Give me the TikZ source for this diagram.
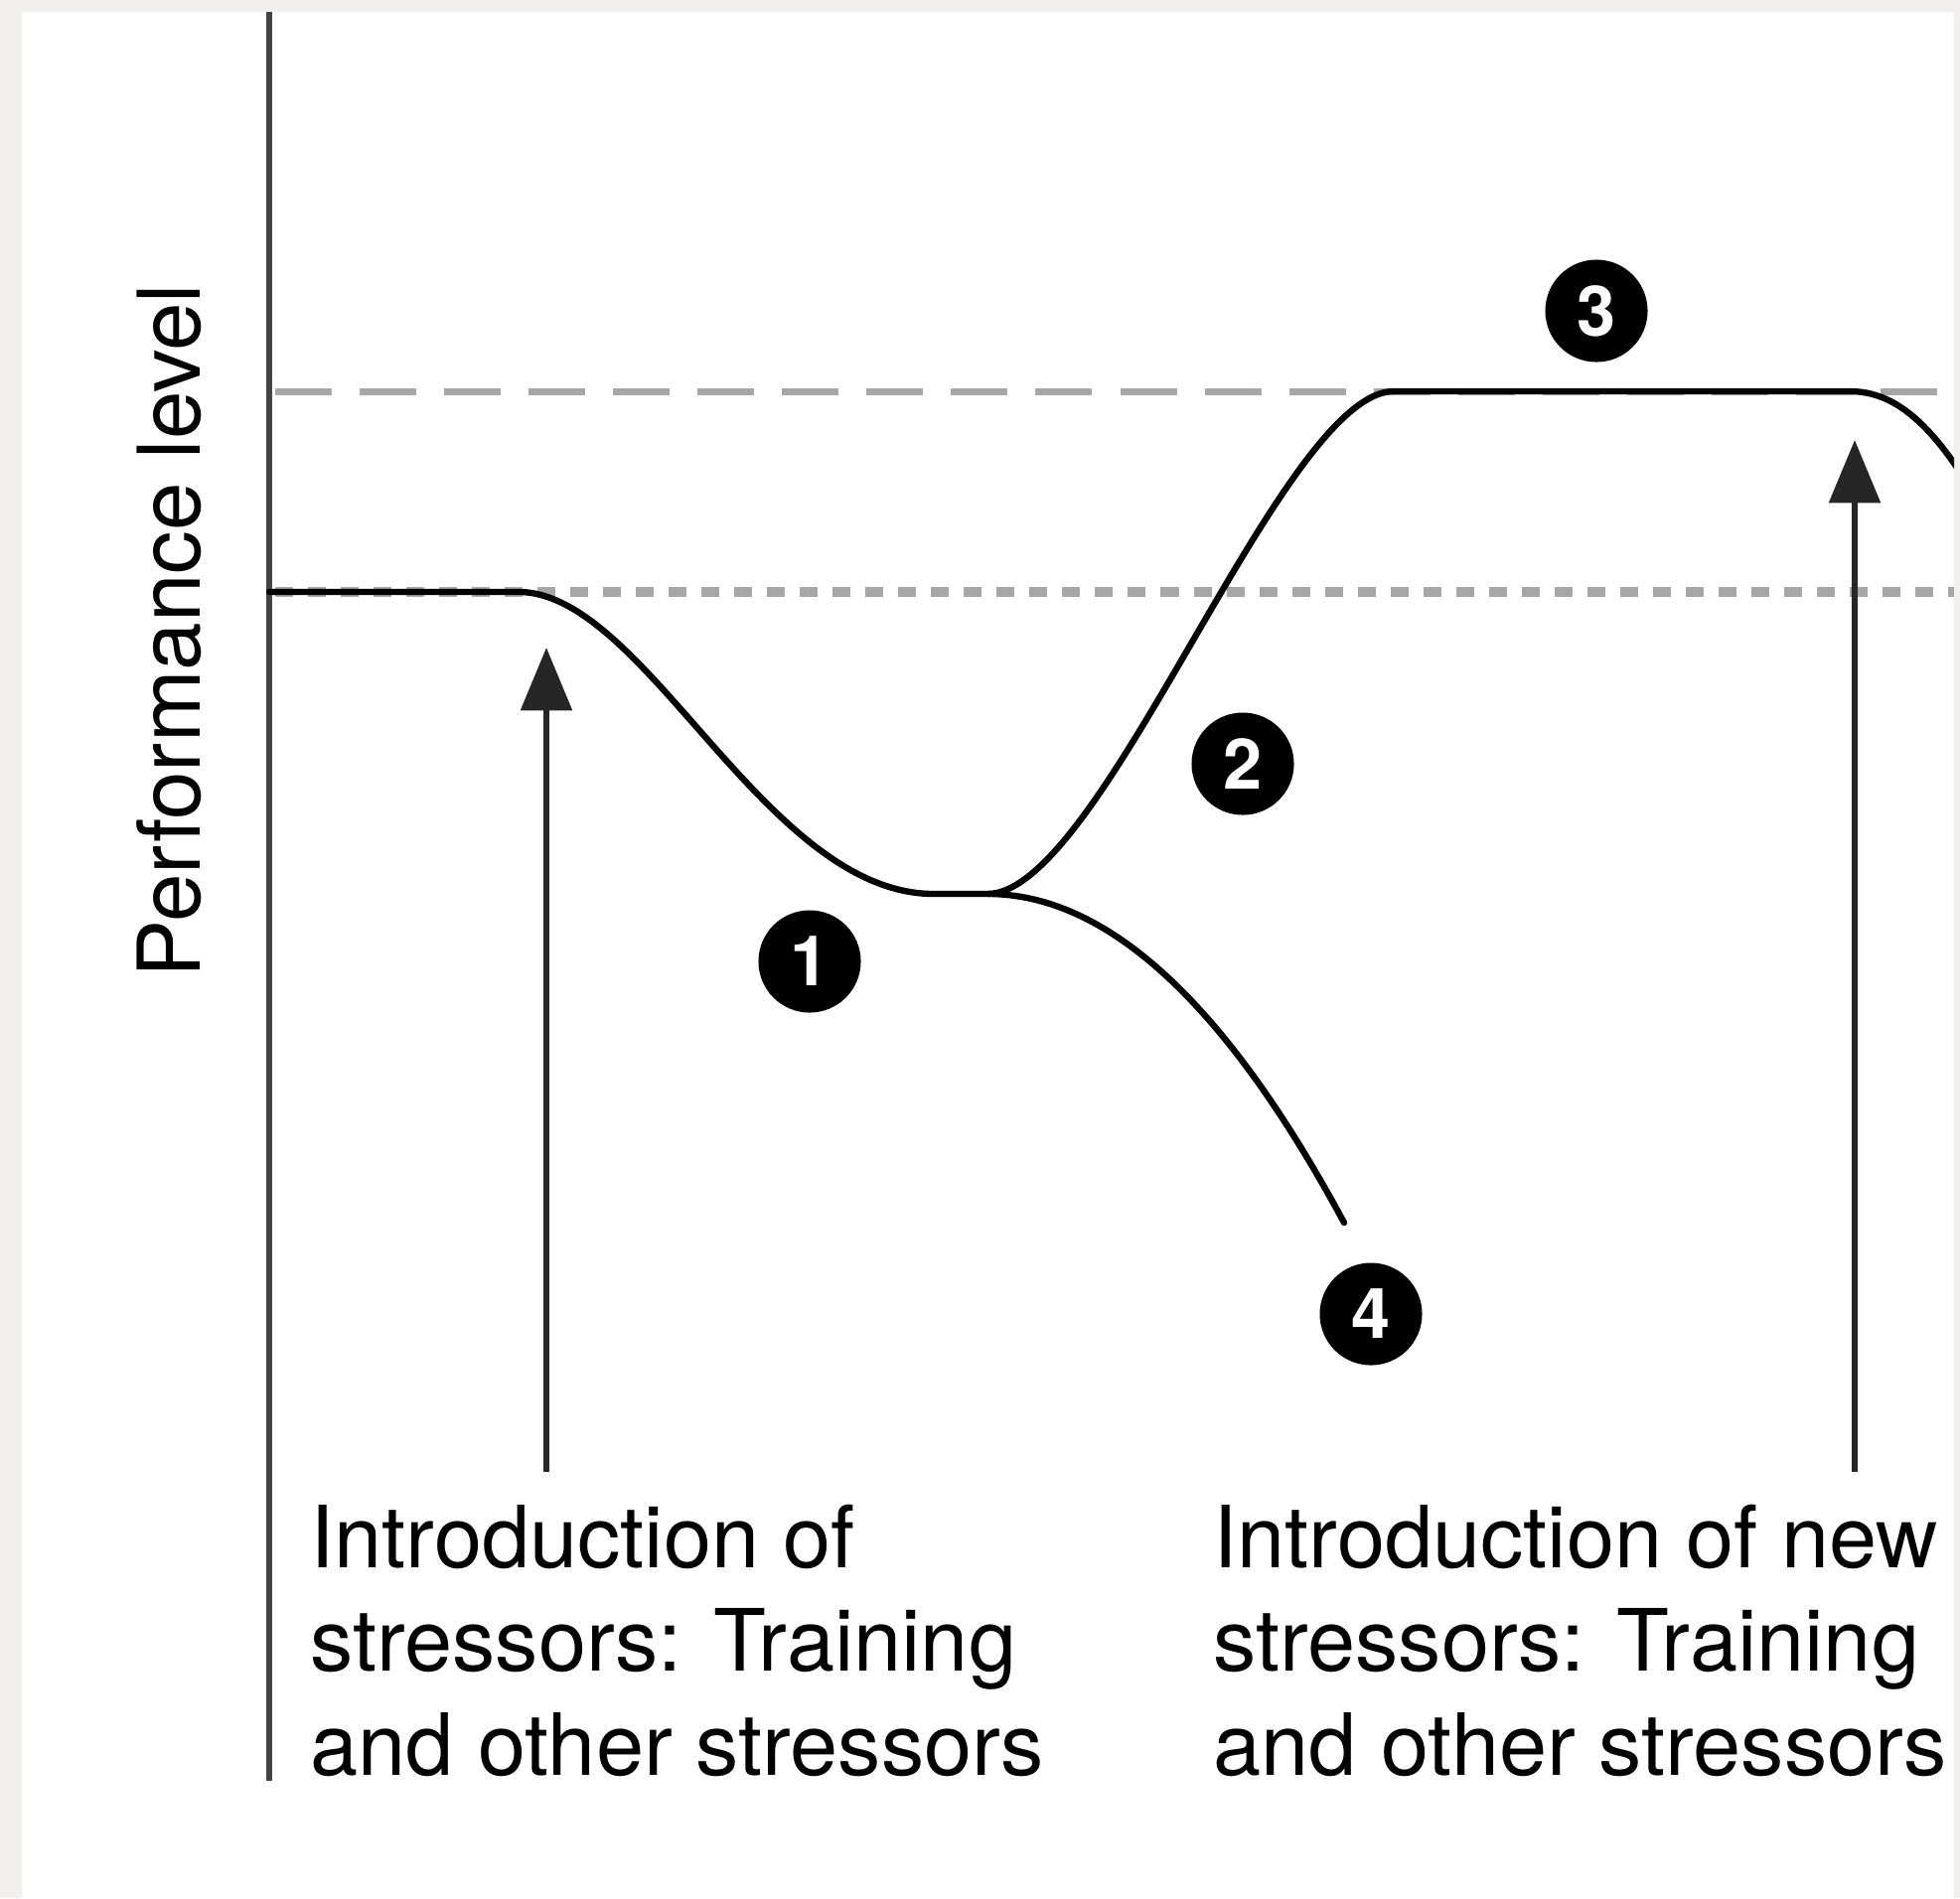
\documentclass[tikz,border=0pt]{standalone}
\usepackage{fontspec}
\setmainfont{TeX Gyre Heros}
\usetikzlibrary{arrows.meta}
\definecolor{framegray}{HTML}{F1F0EC}
\definecolor{axisgray}{HTML}{444444}
\definecolor{refgray}{HTML}{A6A6A6}

\begin{document}
\begin{tikzpicture}[x=0.01cm,y=-0.01cm,
    numdot/.style={circle,fill=black,text=white,minimum size=1.03cm,inner sep=0pt,font=\fontsize{20}{20}\selectfont\bfseries},
    stresslabel/.style={anchor=base west,align=left,inner sep=0pt,font=\fontsize{24.6}{29.6}\selectfont},
    curveline/.style={line width=1.8pt,line cap=round},
    stressarrow/.style={line width=1.6pt,black!85,-{Triangle[length=18pt,width=14.5pt]}}]

    \fill[framegray] (0,0) rectangle (1973,1911);
    \fill[white] (22,12) rectangle (1967,1911);

    \coordinate (ytop) at (271,12);
    \coordinate (ybot) at (271,1793);
    \draw[axisgray,line width=1.7pt] (ytop) -- (ybot);

    \node[rotate=90,anchor=base,inner sep=0pt,font=\fontsize{24.8}{29.6}\selectfont] (ylab) at (201,635) {Performance level};

    \begin{scope}
    \clip (22,12) rectangle (1967,1911);
    % the two reference levels
    \draw[refgray,line width=2pt,dash pattern=on 0.57cm off 0.28cm] (277,394) -- (1967,394);
    \draw[refgray,line width=2.6pt,dash pattern=on 0.18cm off 0.15cm] (277,596) -- (1967,596);

    \draw[curveline] (271,596) -- (522,596) .. controls (650,596) and (770,900) .. (940,900) -- (994,900)
        .. controls (1110,900) and (1290,394) .. (1403,394) -- (1862,394)
        .. controls (1910,394) and (1950,430) .. (2000,520);
    \draw[curveline] (994,900) .. controls (1130,900) and (1250,1040) .. (1353,1231);
    \end{scope}

    \node[numdot] (n1) at (815,968) {1};
    \node[numdot] (n2) at (1251,769) {2};
    \node[numdot] (n3) at (1607,313) {3};
    \node[numdot] (n4) at (1380,1323) {4};

    \coordinate (a1) at (550,1482);
    \coordinate (a1') at (550,652);
    \coordinate (b1) at (1867,1482);
    \coordinate (b1') at (1867,443);

    \draw[stressarrow] (a1) to (a1');
    \draw[stressarrow] (b1) to (b1');

    % base west of a multi-line node sits on its last line
    \node[stresslabel] (lab1) at (312,1787) {Introduction of\\stressors: Training\\and other stressors};
    \node[stresslabel] (lab2) at (1221,1787) {Introduction of new\\stressors: Training\\and other stressors};

\end{tikzpicture}
\end{document}
